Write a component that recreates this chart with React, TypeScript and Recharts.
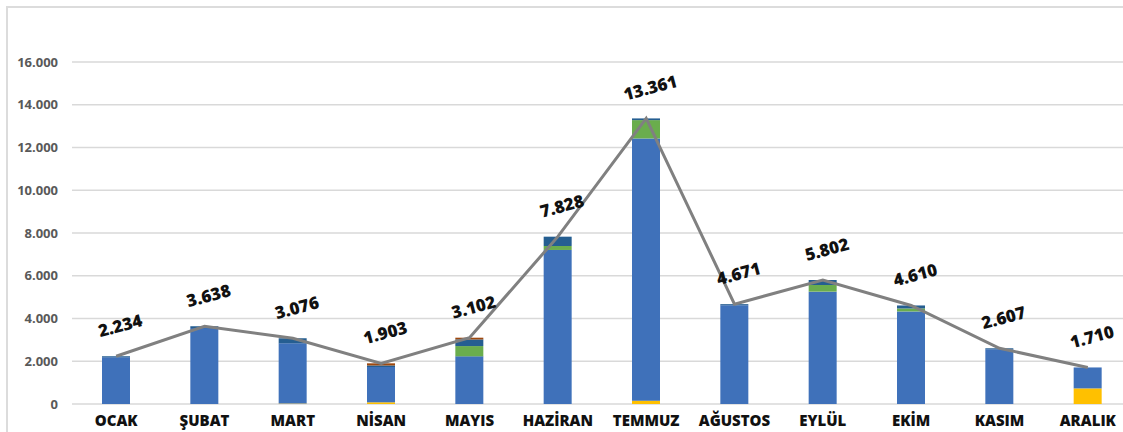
import { ComposedChart, Bar, Line, XAxis, YAxis, CartesianGrid } from 'recharts';

// Months and stacked series values (bottom to top)
const months = ['OCAK', 'ŞUBAT', 'MART', 'NİSAN', 'MAYIS', 'HAZİRAN', 'TEMMUZ', 'AĞUSTOS', 'EYLÜL', 'EKİM', 'KASIM', 'ARALIK'];
const yellowVals = [0, 0, 20, 80, 0, 0, 156, 0, 0, 0, 0, 730];
const blueVals = [2184, 3550, 2820, 1650, 2230, 7206, 12267, 4620, 5256, 4330, 2560, 980];
const greenVals = [0, 0, 0, 0, 480, 187, 858, 0, 312, 140, 0, 0];
const darkBlueVals = [50, 88, 236, 73, 310, 435, 80, 51, 234, 140, 47, 0];
const brownVals = [0, 0, 0, 100, 82, 0, 0, 0, 0, 0, 0, 0];
const totals = [2234, 3638, 3076, 1903, 3102, 7828, 13361, 4671, 5802, 4610, 2607, 1710];
const yTicks = [0, 2000, 4000, 6000, 8000, 10000, 12000, 14000, 16000];

const data = months.map((m, i) => ({
  month: m,
  yellow: yellowVals[i],
  blue: blueVals[i],
  green: greenVals[i],
  darkBlue: darkBlueVals[i],
  brown: brownVals[i],
  total: totals[i],
}));

const fmt = (n: number) => String(n).replace(/\B(?=(\d{3})+(?!\d))/g, '.');

const FONT = "'Open Sans', 'Noto Sans', sans-serif";

function TotalLabel(props: any) {
  const { x, y, value } = props;
  const lx = x + 4;
  const ly = y - 31;
  return (
    <text
      x={lx}
      y={ly}
      textAnchor="middle"
      dominantBaseline="central"
      transform={`rotate(-15, ${lx}, ${ly})`}
      fontFamily={FONT}
      fontWeight={800}
      fontSize={17}
      fill="#111"
    >
      {fmt(value)}
    </text>
  );
}

export default function App() {
  return (
    <div style={{ position: 'fixed', left: 0, top: 0, width: 1123, height: 432, overflow: 'hidden', background: '#fff' }}>
      <div
        style={{
          position: 'absolute',
          left: 6,
          top: 6,
          width: 1200,
          height: 500,
          borderTop: '2px solid #dcdcdc',
          borderLeft: '2px solid #dcdcdc',
        }}
      />
      <div style={{ position: 'absolute', left: 0, top: 0 }}>
        <ComposedChart
          width={1140}
          height={432}
          data={data}
          margin={{ top: 62, right: 8, bottom: 0, left: 0 }}
        >
          <CartesianGrid vertical={false} stroke="#d9d9d9" strokeWidth={1.5} />
          <XAxis
            dataKey="month"
            height={28}
            axisLine={false}
            tickLine={false}
            tickSize={0}
            tickMargin={11}
            interval={0}
            tick={{ fontFamily: FONT, fontWeight: 800, fontSize: 15, fill: '#111' }}
          />
          <YAxis
            width={72}
            domain={[0, 16000]}
            ticks={yTicks}
            axisLine={false}
            tickLine={false}
            tickSize={0}
            tickMargin={14}
            tickFormatter={fmt}
            tick={{ fontFamily: FONT, fontWeight: 700, fontSize: 13, fill: '#595959' }}
          />
          <Bar dataKey="yellow" stackId="a" fill="#ffc000" barSize={28} isAnimationActive={false} />
          <Bar dataKey="blue" stackId="a" fill="#3f71ba" barSize={28} isAnimationActive={false} />
          <Bar dataKey="green" stackId="a" fill="#6aad4d" barSize={28} isAnimationActive={false} />
          <Bar dataKey="darkBlue" stackId="a" fill="#255e91" barSize={28} isAnimationActive={false} />
          <Bar dataKey="brown" stackId="a" fill="#9e480e" barSize={28} isAnimationActive={false} />
          <Line
            dataKey="total"
            stroke="#808080"
            strokeWidth={3}
            dot={false}
            activeDot={false}
            label={<TotalLabel />}
            isAnimationActive={false}
          />
        </ComposedChart>
      </div>
    </div>
  );
}
